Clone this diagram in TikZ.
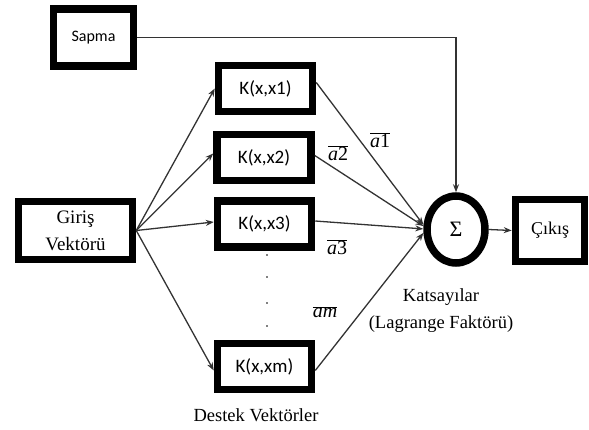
\RequirePackage{fix-cm}
\documentclass[tikz,border=0pt]{standalone}
\usepackage{fontspec}
\setmainfont{Liberation Serif}
\newfontfamily\calib{Carlito}
\usetikzlibrary{arrows.meta,shapes.geometric}
\newcommand{\coef}[1]{$\overline{\hbox{\textit{a}#1}}$}
\newcommand{\coefm}{$\overline{\hbox{\textit{am}}}$}
\begin{document}
\begin{tikzpicture}[x=1pt,y=-1pt,
  thickbox/.style={draw=black,line width=7.5pt,fill=white,inner sep=0pt},
  kbox/.style={thickbox,minimum width=94pt,minimum height=46pt,font=\calib\fontsize{19}{22}\selectfont},
  conn/.style={draw=black!80,line width=1.3pt,-{Stealth[length=8pt,width=6pt]}},
  serif/.style={font=\fontsize{20}{24}\selectfont}]
\useasboundingbox (0,0) rectangle (589,430);
% nodes
\node[thickbox,minimum width=80pt,minimum height=57pt,font=\calib\fontsize{16}{19}\selectfont] (sapma) at (93.5,37.5) {Sapma};
\node[kbox] (k1) at (265.5,88.5) {K(x,x1)};
\node[kbox] (k2) at (264,157.5) {K(x,x2)};
\node[kbox] (k3) at (264.5,224) {K(x,x3)};
\node[kbox] (km) at (264.5,366.5) {K(x,xm)};
\node[thickbox,minimum width=114pt,minimum height=58pt,align=center,font=\fontsize{19}{27}\selectfont] (giris) at (75.5,230.5) {Giriş\\Vektörü};
\node[draw=black,line width=7.5pt,fill=white,ellipse,minimum width=58pt,minimum height=67pt,inner sep=0pt,font=\fontsize{22}{24}\selectfont] (sigma) at (456,229.5) {Σ};
\node[thickbox,minimum width=69pt,minimum height=62pt,font=\fontsize{18}{22}\selectfont] (cikis) at (550,230.5) {Çıkış};
% dots
\foreach \yy [count=\i] in {255,277,303,326} \fill (267,\yy) circle (0.9pt) coordinate (dot\i);
% labels
\node[serif] (a1) at (380,140) {\coef{1}};
\node[serif] (a2) at (338,153) {\coef{2}};
\node[serif] (a3) at (337,247) {\coef{3}};
\node[serif] (am) at (325,312) {\coefm};
\node[align=center,font=\fontsize{18.5}{27}\selectfont] (kats) at (441,311) {Katsayılar\\(Lagrange Faktörü)};
\node[font=\fontsize{18.5}{22}\selectfont] (destek) at (256,415) {Destek Vektörler};
% connectors
\draw[conn] (sapma.east) -| (sigma.north);
\draw[conn] (giris.east) -- (k1.west);
\draw[conn] (giris.east) -- ([yshift=4pt]k2.west);
\draw[conn] (giris.east) -- ([yshift=2pt]k3.west);
\draw[conn] (giris.east) -- ([yshift=-4pt]km.west);
\draw[conn] ([yshift=6pt]k1.east) -- (sigma.172);
\draw[conn] ([yshift=2pt]k2.east) -- (sigma.174);
\draw[conn] ([yshift=3pt]k3.east) -- (sigma.179);
\draw[conn] ([yshift=-4pt]km.east) -- (sigma.186);
\draw[conn] (sigma.east) -- (cikis.west);
\end{tikzpicture}
\end{document}
